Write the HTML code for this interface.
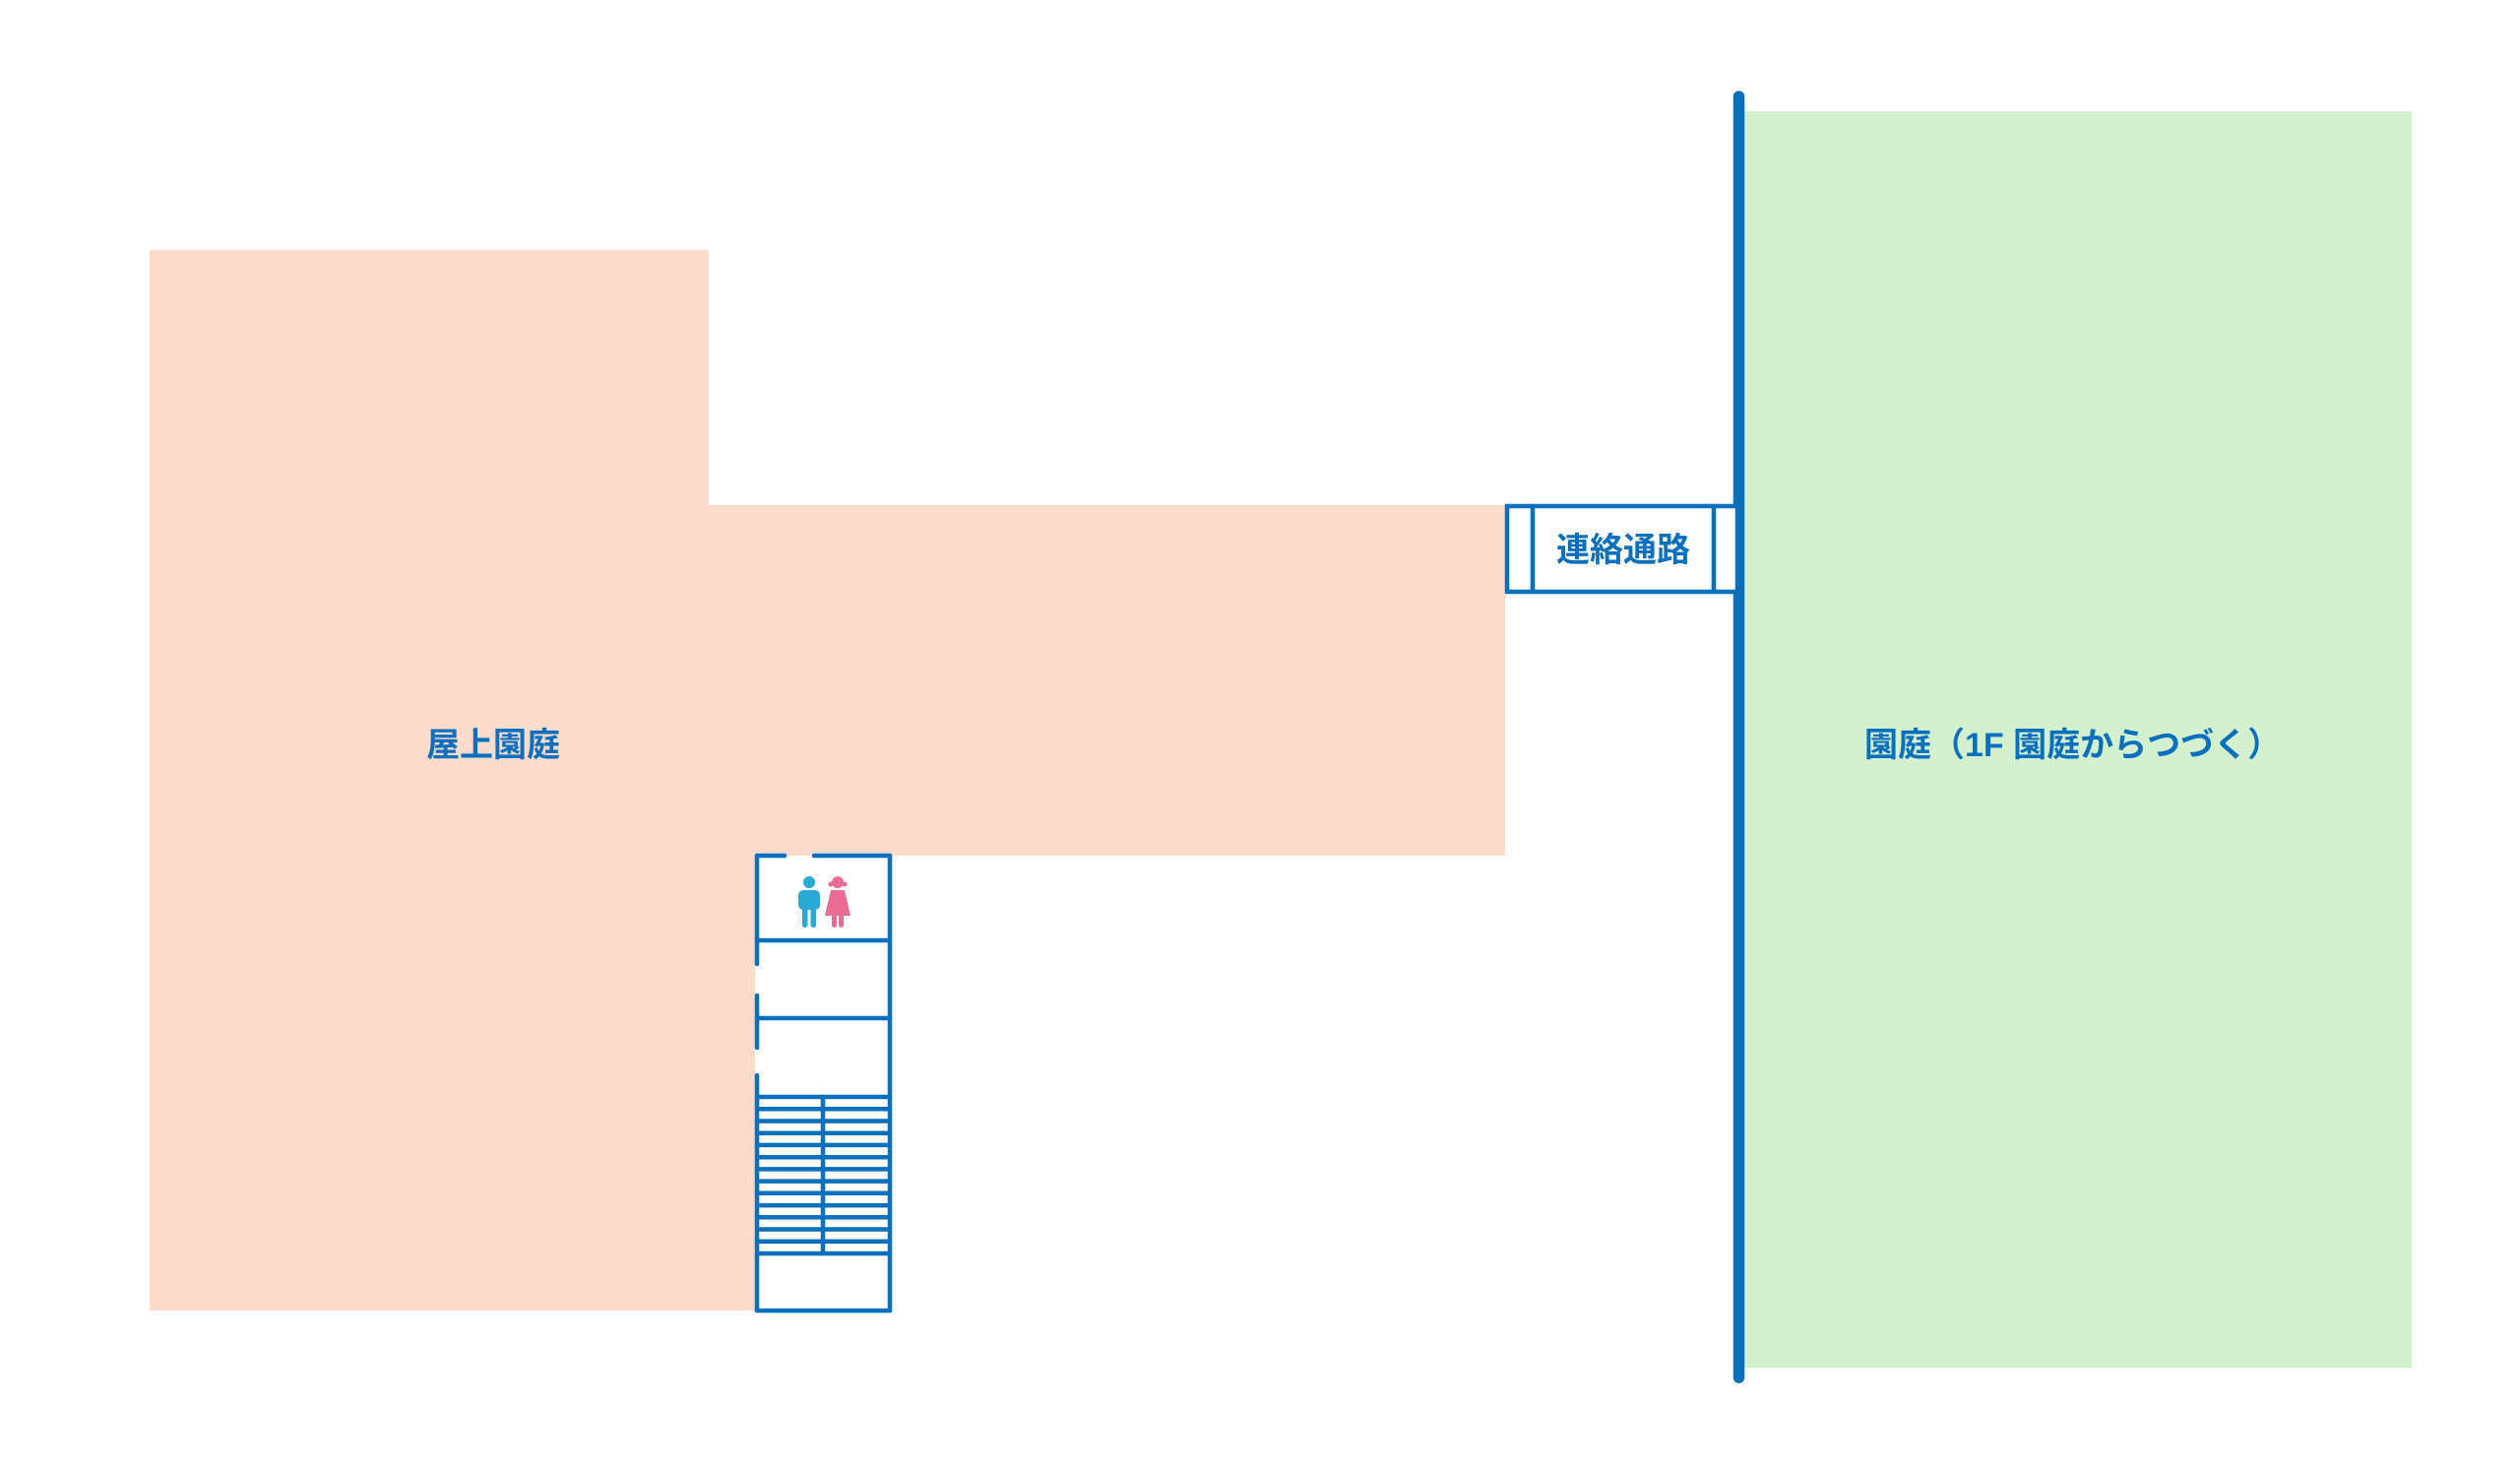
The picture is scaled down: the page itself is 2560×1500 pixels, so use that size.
<!DOCTYPE html>
<html><head><meta charset="utf-8"><style>html,body{margin:0;padding:0;background:#fff}svg{display:block}</style></head>
<body>
<svg width="2560" height="1500" viewBox="0 0 2560 1500" xmlns="http://www.w3.org/2000/svg">
<polygon points="152,254 720,254 720,513 1529,513 1529,869 767,869 767,1331 152,1331" fill="#fddccd"/>
<rect x="1772" y="113" width="678" height="1276" fill="#d3f0cf"/>
<line x1="1766.5" y1="98" x2="1766.5" y2="1399" stroke="#0a6fbd" stroke-width="11.5" stroke-linecap="round"/>
<g stroke="#0a6fbd" stroke-width="4.5" fill="none" stroke-linecap="round">
<rect x="1531" y="514" width="234" height="87" fill="#fff"/>
<line x1="1557" y1="514" x2="1557" y2="601"/>
<line x1="1741" y1="514" x2="1741" y2="601"/>
</g>
<g stroke="#0a6fbd" stroke-width="4.5" fill="none" stroke-linecap="round">
<rect x="769" y="869" width="134" height="462" fill="#fff" stroke="none"/>
<line x1="769" y1="869" x2="797" y2="869"/>
<line x1="827" y1="869" x2="904" y2="869"/>
<line x1="904" y1="869" x2="904" y2="1331"/>
<line x1="769" y1="1331" x2="904" y2="1331"/>
<line x1="769" y1="869" x2="769" y2="979"/>
<line x1="769" y1="1011" x2="769" y2="1064"/>
<line x1="769" y1="1092" x2="769" y2="1331"/>
<line x1="769" y1="955" x2="904" y2="955"/>
<line x1="769" y1="1034" x2="904" y2="1034"/>
<line x1="836" y1="1114" x2="836" y2="1273"/>
<line x1="769" y1="1114" x2="904" y2="1114"/>
<line x1="769" y1="1126.2" x2="904" y2="1126.2"/>
<line x1="769" y1="1138.5" x2="904" y2="1138.5"/>
<line x1="769" y1="1150.7" x2="904" y2="1150.7"/>
<line x1="769" y1="1162.9" x2="904" y2="1162.9"/>
<line x1="769" y1="1175.2" x2="904" y2="1175.2"/>
<line x1="769" y1="1187.4" x2="904" y2="1187.4"/>
<line x1="769" y1="1199.6" x2="904" y2="1199.6"/>
<line x1="769" y1="1211.8" x2="904" y2="1211.8"/>
<line x1="769" y1="1224.1" x2="904" y2="1224.1"/>
<line x1="769" y1="1236.3" x2="904" y2="1236.3"/>
<line x1="769" y1="1248.5" x2="904" y2="1248.5"/>
<line x1="769" y1="1260.8" x2="904" y2="1260.8"/>
<line x1="769" y1="1273" x2="904" y2="1273"/>
</g>
<g fill="#29a9d4">
<circle cx="822" cy="896" r="6"/>
<rect x="811" y="904" width="22" height="20" rx="5"/>
<rect x="815" y="918" width="5.5" height="24" rx="2.5"/>
<rect x="823.5" y="918" width="5.5" height="24" rx="2.5"/>
</g>
<g fill="#e86c93">
<circle cx="851" cy="896" r="6"/>
<circle cx="844" cy="898" r="2.5"/><circle cx="858" cy="898" r="2.5"/>
<path d="M844,904 h14 l6,26 h-26 z"/>
<rect x="845" y="926" width="5" height="16" rx="2.5"/>
<rect x="852" y="926" width="5" height="16" rx="2.5"/>
</g>
<g font-family="'Liberation Sans','Noto Sans CJK JP',sans-serif" font-weight="bold" fill="#0a6fbd" font-size="34">
<text x="501" y="768" text-anchor="middle">屋上園庭</text>
<text x="1649" y="570" text-anchor="middle">連絡通路</text>
<text x="1894" y="768">園庭（1F 園庭からつづく）</text>
</g>
</svg>
</body></html>
